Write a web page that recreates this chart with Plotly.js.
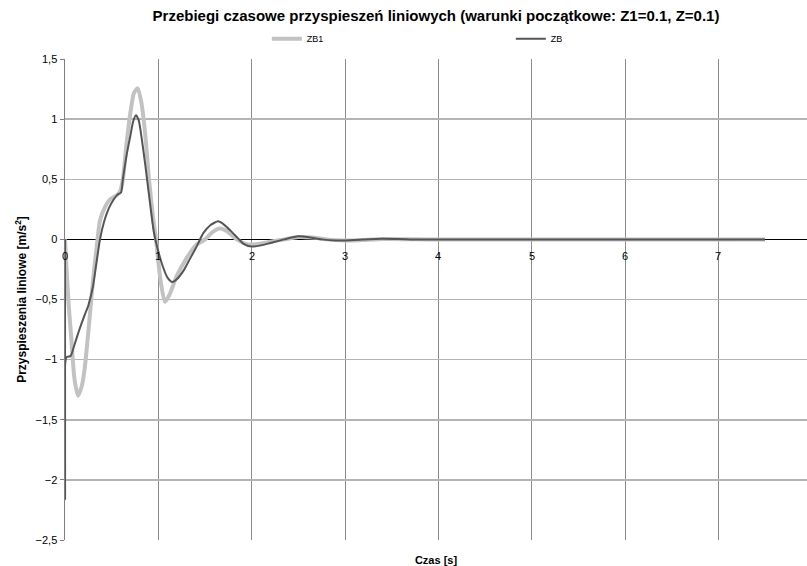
<!DOCTYPE html>
<html>
<head>
<meta charset="utf-8">
<script src="https://cdn.plot.ly/plotly-3.0.1.min.js"></script>
<style>
  html, body { margin: 0; padding: 0; background: #fff; }
  #chart { width: 807px; height: 566px; }
</style>
</head>
<body>
<div id="chart"></div>
<script>
// Time axis [s] and linear acceleration [m/s^2] for both variants
const tZB1 = [0, 0.02, 0.04, 0.07, 0.1, 0.14, 0.18, 0.21, 0.24, 0.27, 0.3, 0.34, 0.375, 0.43, 0.48, 0.52, 0.56, 0.59,
  0.62, 0.66, 0.7, 0.74, 0.78, 0.82, 0.86, 0.9, 0.94, 0.975, 1.02, 1.07, 1.12, 1.2, 1.3, 1.4, 1.5, 1.58, 1.66,
  1.74, 1.84, 1.95, 2.05, 2.2, 2.35, 2.5, 2.65, 2.8, 3.0, 3.2, 3.4, 3.6, 3.9, 4.5, 5.5, 6.5, 7.5];
const aZB1 = [0, -0.3, -0.55, -0.85, -1.15, -1.3, -1.22, -1.08, -0.85, -0.6, -0.34, -0.06, 0.16, 0.27, 0.33, 0.35, 0.37, 0.4,
  0.5, 0.8, 1.05, 1.22, 1.256, 1.13, 0.87, 0.5, 0.2, 0.0, -0.32, -0.52, -0.46, -0.3, -0.16, -0.05, 0.0, 0.06, 0.09,
  0.065, 0.0, -0.04, -0.04, -0.02, 0.0, 0.02, 0.015, 0.0, -0.01, -0.005, 0.004, 0.002, 0, 0, 0, 0, 0];

const tZB = [0, 0.001, 0.015, 0.06, 0.1, 0.15, 0.2, 0.25, 0.3, 0.34, 0.375, 0.42, 0.47, 0.52, 0.56, 0.6, 0.62, 0.66,
  0.7, 0.73, 0.76, 0.79, 0.82, 0.86, 0.9, 0.95, 0.98, 1.05, 1.1, 1.15, 1.2, 1.27, 1.34, 1.41, 1.48, 1.56, 1.64,
  1.7, 1.77, 1.84, 1.91, 2.0, 2.1, 2.2, 2.35, 2.5, 2.6, 2.75, 2.9, 3.1, 3.4, 3.7, 4.2, 5.0, 6.0, 7.0, 7.5];
const aZB = [0, -2.16, -0.98, -0.97, -0.88, -0.76, -0.65, -0.55, -0.39, -0.18, 0.0, 0.15, 0.26, 0.33, 0.37, 0.39, 0.5, 0.7,
  0.86, 0.98, 1.033, 0.99, 0.85, 0.62, 0.37, 0.07, -0.04, -0.23, -0.32, -0.355, -0.33, -0.26, -0.16, -0.06, 0.05, 0.12, 0.15,
  0.125, 0.075, 0.02, -0.035, -0.06, -0.05, -0.03, 0.0, 0.025, 0.02, 0.0, -0.01, -0.005, 0.005, 0.0, 0, 0, 0, 0, 0];

const seriesNames = ['ZB1', 'ZB'];
const xTickVals = [0, 1, 2, 3, 4, 5, 6, 7];
const xTickText = ['0', '1', '2', '3', '4', '5', '6', '7'];
const yTickVals = [1.5, 1, 0.5, 0, -0.5, -1, -1.5, -2, -2.5];

const titleText = 'Przebiegi czasowe przyspieszeń liniowych (warunki początkowe: Z1=0.1, Z=0.1)';
const xTitle = 'Czas [s]';
const yTitle = 'Przyspieszenia liniowe [m/s<sup>2</sup>]';

const FONT = 'Liberation Sans, Arial, sans-serif';

const traces = [
  {
    x: tZB1, y: aZB1, name: seriesNames[0], type: 'scatter', mode: 'lines',
    line: { color: '#c2c2c2', width: 4, shape: 'spline', smoothing: 0.6 }
  },
  {
    x: tZB, y: aZB, name: seriesNames[1], type: 'scatter', mode: 'lines',
    line: { color: '#555555', width: 2, shape: 'spline', smoothing: 0.6 }
  }
];

// x tick labels sit just under the zero line, like a crossing category axis
const xLabelAnnotations = xTickVals.map((v, i) => ({
  x: v, y: 0, xref: 'x', yref: 'y', text: xTickText[i], showarrow: false,
  yshift: -17, font: { family: FONT, size: 11, color: '#000' }
}));

const layout = {
  width: 807, height: 566,
  margin: { l: 65, r: 0, t: 59, b: 26, pad: 0, autoexpand: false },
  paper_bgcolor: '#fff', plot_bgcolor: '#fff',
  separators: ', ',
  font: { family: FONT, size: 11, color: '#000' },
  title: {
    text: titleText, font: { family: FONT, size: 15, color: '#000', weight: 'bold' },
    x: 0.5, xanchor: 'center', xref: 'paper', y: 0.973, yanchor: 'middle'
  },
  showlegend: true,
  legend: {
    orientation: 'h', x: 0.272, xanchor: 'left', y: 1.042, yanchor: 'middle',
    entrywidth: 199, entrywidthmode: 'pixels', traceorder: 'normal',
    font: { family: FONT, size: 9, color: '#000' }, bgcolor: 'rgba(0,0,0,0)'
  },
  xaxis: {
    range: [0, 7.95], tickvals: xTickVals, showticklabels: false,
    showgrid: true, gridcolor: '#8c8c8c', gridwidth: 1,
    zeroline: false, showline: false, ticks: '', automargin: false,
    title: { text: xTitle, font: { family: FONT, size: 11, color: '#000', weight: 'bold' }, standoff: 18 }
  },
  yaxis: {
    range: [-2.5, 1.5], tickvals: yTickVals, ticks: 'outside', ticklen: 4, automargin: false,
    tickcolor: '#808080', tickfont: { family: FONT, size: 11, color: '#000' },
    showgrid: true, gridcolor: '#b4b4b4', gridwidth: 1.5,
    zeroline: true, zerolinecolor: '#000', zerolinewidth: 1,
    showline: true, linecolor: '#808080', linewidth: 1.5,
    title: { text: yTitle, font: { family: FONT, size: 12, color: '#000', weight: 'bold' }, standoff: 6 }
  },
  annotations: xLabelAnnotations
};

Plotly.newPlot('chart', traces, layout, { displayModeBar: false, staticPlot: true });
</script>
</body>
</html>
